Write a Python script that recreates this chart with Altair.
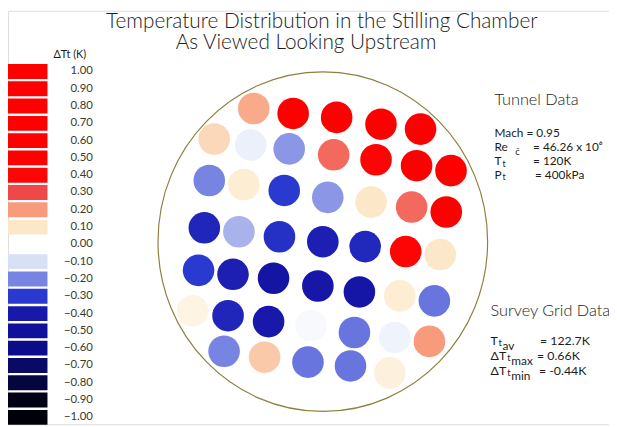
import altair as alt
import pandas as pd

# ---------------- data ----------------
# Survey-grid probe positions (normalised by chamber radius, viewed looking upstream)
probe_x = [-0.419, -0.180, 0.084, 0.353, 0.593,
           -0.659, -0.437, -0.204, 0.066, 0.323, 0.569, 0.778,
           -0.689, -0.479, -0.234, 0.030, 0.293, 0.539, 0.749,
           -0.719, -0.509, -0.263, 0.000, 0.257, 0.503, 0.713,
           -0.754, -0.545, -0.299, -0.030, 0.222, 0.467, 0.677,
           -0.790, -0.575, -0.329, -0.072, 0.192, 0.437, 0.647,
           -0.599, -0.353, -0.090, 0.168, 0.407]
probe_y = [0.808, 0.778, 0.754, 0.713, 0.683,
           0.623, 0.587, 0.563, 0.527, 0.497, 0.461, 0.431,
           0.371, 0.347, 0.311, 0.269, 0.240, 0.210, 0.180,
           0.084, 0.060, 0.030, 0.000, -0.030, -0.060, -0.078,
           -0.174, -0.198, -0.222, -0.269, -0.305, -0.329, -0.359,
           -0.419, -0.449, -0.485, -0.509, -0.551, -0.581, -0.605,
           -0.665, -0.701, -0.731, -0.754, -0.796]
# Temperature deviation ΔTt (K) at each probe
probe_dt = [0.18, 0.55, 0.50, 0.60, 0.62,
            0.12, -0.05, -0.18, 0.26, 0.42, 0.58, 0.66,
            -0.20, 0.08, -0.30, -0.18, 0.10, 0.26, 0.50,
            -0.36, -0.15, -0.33, -0.38, -0.35, 0.42, 0.10,
            -0.30, -0.38, -0.44, -0.42, -0.43, 0.08, -0.22,
            0.05, -0.36, -0.40, -0.02, -0.22, -0.04, 0.20,
            -0.20, 0.14, -0.22, -0.22, 0.06]

# Colour key
key_values = [1.0, 0.9, 0.8, 0.7, 0.6, 0.5, 0.4, 0.3, 0.2, 0.1, 0.0,
              -0.1, -0.2, -0.3, -0.4, -0.5, -0.6, -0.7, -0.8, -0.9, -1.0]
key_labels = ["1.00", "0.90", "0.80", "0.70", "0.60", "0.50", "0.40", "0.30",
              "0.20", "0.10", "0.00", "\u22120.10", "\u22120.20", "\u22120.30",
              "\u22120.40", "\u22120.50", "\u22120.60", "\u22120.70", "\u22120.80",
              "\u22120.90", "\u22121.00"]
key_colors = ["#ff0000", "#ff0000", "#ff0000", "#ff0000", "#ff0000", "#ff0000",
              "#fc0606", "#f04848", "#f89a7c", "#fce8c8", "#ffffff",
              "#d8e0f4", "#7884e2", "#2a3ad0", "#1818aa", "#10109c", "#0c0c88",
              "#0a0a66", "#06063e", "#020216", "#00000a"]

# ---------------- chart ----------------
W, H = 609, 419

probes = pd.DataFrame({"x": probe_x, "y": probe_y, "dt": probe_dt})
key = pd.DataFrame({"v": key_values, "label": key_labels})

color_scale = alt.Scale(domain=sorted(key_values), range=key_colors[::-1],
                        interpolate="rgb")

xs = alt.Scale(domain=[-1, 1], range=[152, 486])
ys = alt.Scale(domain=[-1, 1], range=[401, 67])

TXT = "#1c1c1c"
FONT = "Lato"

ellipse = alt.Chart(pd.DataFrame({"x": [0.0], "y": [0.0]})).mark_point(
    shape="M -1 0 A 1 1.03 0 1 1 1 0 A 1 1.03 0 1 1 -1 0 Z",
    size=334 ** 2, filled=False, stroke="#8c8040", strokeWidth=1.2, opacity=1
).encode(
    x=alt.X("x:Q", scale=xs, axis=None),
    y=alt.Y("y:Q", scale=ys, axis=None),
)

dots = alt.Chart(probes).mark_circle(size=1024, opacity=1).encode(
    x=alt.X("x:Q", scale=xs, axis=None),
    y=alt.Y("y:Q", scale=ys, axis=None),
    color=alt.Color("dt:Q", scale=color_scale, legend=None),
)

ky = alt.Scale(domain=[-1, 1], range=[412, 61.5])

key_rects = alt.Chart(key).transform_filter("datum.v != 0").transform_calculate(
    top="datum.v + 0.043", bot="datum.v - 0.043"
).mark_rect().encode(
    x=alt.value(0), x2=alt.value(40),
    y=alt.Y("top:Q", scale=ky, axis=None),
    y2="bot:Q",
    color=alt.Color("v:Q", scale=color_scale, legend=None),
)

key_text = alt.Chart(key).mark_text(
    align="right", baseline="middle", font=FONT, fontSize=11.5, color="#3a3a2c"
).encode(
    x=alt.value(86),
    y=alt.Y("v:Q", scale=ky, axis=None),
    text="label:N",
)

one = pd.DataFrame({"a": [0]})


def label(text, x, y, size, align="left", weight=400):
    return alt.Chart(one).mark_text(
        align=align, baseline="alphabetic", font=FONT, fontSize=size,
        fontWeight=weight, color=TXT
    ).encode(x=alt.value(x), y=alt.value(y), text=alt.value(text))


texts = [
    label("Temperature Distribution in the Stilling Chamber", 318, 17, 21, "center", 300),
    label("As Viewed Looking Upstream", 302, 39, 21, "center", 300),
    label("\u0394Tt (K)", 46, 48, 11),
    label("Tunnel Data", 493, 96, 16.5, weight=300),
    label("Mach = 0.95", 493, 128, 12),
    label("Re", 493, 142, 12),
    label("c\u0304", 514, 146, 9.5),
    label("= 46.26 x 10\u2076", 532, 142, 12),
    label("T", 493, 156, 12),
    label("t", 501, 158, 9),
    label("= 120K", 532, 156, 12),
    label("P", 493, 170, 12),
    label("t", 501, 172, 9),
    label("= 400kPa", 534, 170, 12),
    label("Survey Grid Data", 489, 309, 16.5, weight=300),
    label("T", 489, 339, 12.5),
    label("t", 497, 340, 9.5),
    label("av", 501, 344, 12),
    label("= 122.7K", 539, 339, 12.5),
    label("\u0394T", 489, 354, 12.5),
    label("t", 506, 355, 9.5),
    label("max", 510, 359, 12),
    label("= 0.66K", 536, 354, 12.5),
    label("\u0394T", 489, 369, 12.5),
    label("t", 506, 370, 9.5),
    label("min", 510, 374, 12),
    label("= -0.44K", 538, 369, 12.5),
]

chart = alt.layer(ellipse, dots, key_rects, key_text, *texts).resolve_scale(
    y="independent", x="independent"
).properties(
    width=W, height=H, padding=0, autosize=alt.AutoSizeParams(type="none")
).configure_view(stroke=None).configure(background="white")

chart.save("out.html", embed_options={"renderer": "svg", "actions": False})
